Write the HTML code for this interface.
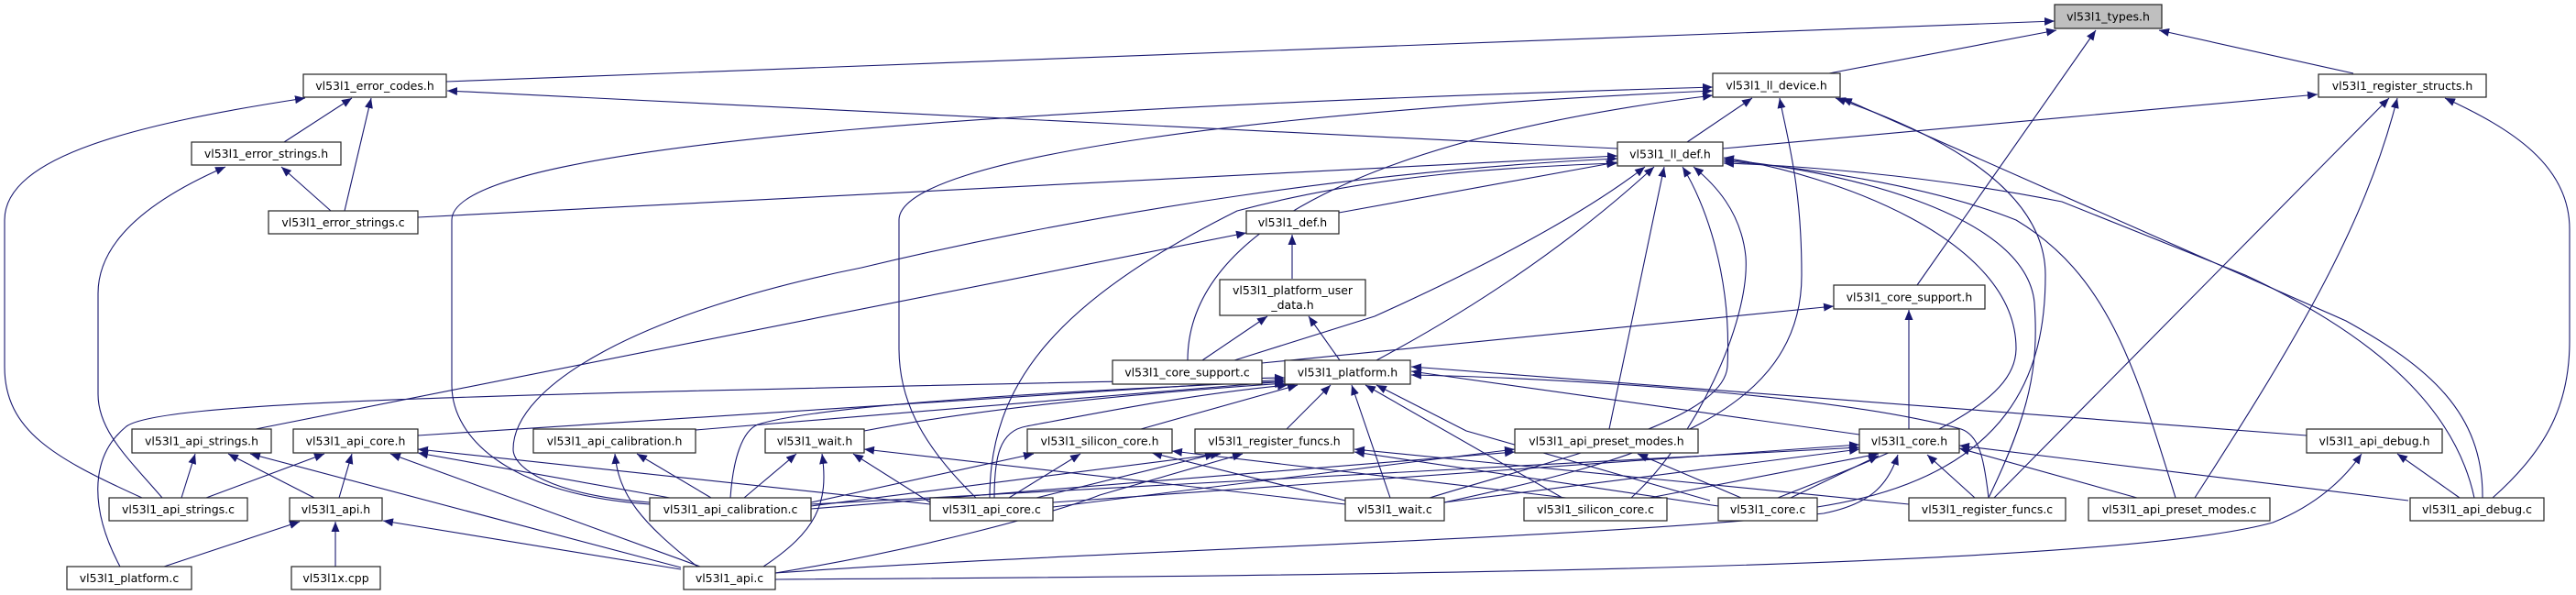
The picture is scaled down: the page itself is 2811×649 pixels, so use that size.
<!DOCTYPE html>
<html><head><meta charset="utf-8"><style>
html,body{margin:0;padding:0;background:#fff;}
svg{display:block;}
text{font-family:"DejaVu Sans","Liberation Sans",sans-serif;font-size:12.5px;fill:#000;}
.n{fill:#fff;stroke:#222;stroke-width:1.2;}
.e{fill:none;stroke:#191970;stroke-width:1.1;}
</style></head><body>
<svg width="2811" height="649" viewBox="0 0 2811 649" xmlns="http://www.w3.org/2000/svg">
<defs><marker id="a" markerUnits="userSpaceOnUse" markerWidth="12" markerHeight="9" refX="11" refY="4.5" orient="auto"><path d="M0,0 L11,4.5 L0,9 z" fill="#191970"/></marker></defs>
<g class="e" marker-end="url(#a)">
<!-- to types.h -->
<path d="M487,89 L2242,23"/>
<path d="M1996,80 L2244,33"/>
<path d="M2092,311 L2287,33"/>
<path d="M2568,80 L2356,33"/>
<!-- to error_codes.h -->
<path d="M1765,162 L488,99"/>
<path d="M310,155 L384,107"/>
<path d="M376,230 L405,107"/>
<path d="M155,543 C60,500 5,470 5,400 L5,240 C5,170 150,135 333,107"/>
<!-- to error_strings.h -->
<path d="M361,230 L307,182"/>
<path d="M177,543 C140,500 107,470 107,430 L107,320 C107,260 170,215 246,182"/>
<!-- to ll_device.h -->
<path d="M1841,155 L1912,107"/>
<path d="M709,550 C560,540 493,480 493,420 L493,240 C493,150 1200,115 1869,95"/>
<path d="M1065,543 C1000,480 981,430 981,380 L981,240 C981,170 1400,120 1869,99"/>
<path d="M1296,393 C1296,250 1500,150 1869,104"/>
<path d="M1576,548 C1800,500 1966,450 1966,300 C1966,200 1950,150 1942,107"/>
<path d="M1983,553 C2200,520 2232,400 2232,300 C2232,200 2100,140 2003,107"/>
<path d="M2709,543 C2710,450 2650,400 2560,350 L2010,107"/>
<!-- to ll_def.h -->
<path d="M456,237 L1765,170"/>
<path d="M1461,232 L1764,177"/>
<path d="M279,468 L1360,254"/>
<path d="M709,548 C600,540 560,510 560,490 C560,420 700,340 940,292 C1200,230 1500,185 1765,173"/>
<path d="M1080,543 C1080,420 1150,330 1350,230 C1500,190 1650,182 1765,178"/>
<path d="M1347,393 L1500,345 C1600,300 1720,240 1795,182"/>
<path d="M1502,393 C1620,330 1720,260 1805,182"/>
<path d="M1756,468 L1816,182"/>
<path d="M1560,543 C1700,500 1880,460 1885,400 C1890,300 1860,220 1836,182"/>
<path d="M1780,543 C1850,480 1910,350 1905,280 C1900,230 1870,200 1848,182"/>
<path d="M1940,543 C2100,480 2200,440 2200,380 C2200,260 2000,190 1881,172"/>
<path d="M2170,543 C2215,450 2225,400 2220,330 C2210,230 2000,185 1881,174"/>
<path d="M2374,543 C2330,400 2300,300 2200,240 C2100,200 1950,180 1881,176"/>
<path d="M2700,543 C2680,450 2600,370 2450,300 L2250,220 C2100,190 1950,180 1881,178"/>
<!-- to register_structs.h -->
<path d="M1880,162 L2529,103"/>
<path d="M2176,543 L2607,107"/>
<path d="M2395,543 C2500,380 2580,250 2616,107"/>
<path d="M2720,543 C2780,490 2804,440 2804,372 L2804,250 C2804,180 2740,140 2668,107"/>
<!-- def/platform_user_data/core_support -->
<path d="M1410,304 L1410,256"/>
<path d="M1312,393 L1383,345"/>
<path d="M1462,393 L1428,345"/>
<path d="M1377,396 L2001,334"/>
<path d="M2083,468 L2083,338"/>
<!-- to platform.h -->
<path d="M131,618 C100,560 95,500 138,465 C180,435 600,430 1402,412"/>
<path d="M456,475 L1402,414"/>
<path d="M759,469 L1402,416"/>
<path d="M943,470 C1100,440 1300,425 1402,418"/>
<path d="M797,543 C800,500 810,470 827,463 C900,440 1200,425 1402,416"/>
<path d="M1245,468 L1416,420"/>
<path d="M1404,468 L1452,420"/>
<path d="M1085,543 C1085,500 1090,470 1120,465 C1200,450 1300,430 1405,420"/>
<path d="M1517,543 L1475,420"/>
<path d="M1705,543 L1490,420"/>
<path d="M1866,546 L1600,470 L1502,420"/>
<path d="M2029,474 L1540,405"/>
<path d="M2517,475 L1540,400"/>
<path d="M2170,543 C2165,500 2160,475 2140,468 C2000,430 1700,412 1540,409"/>
<!-- to api_strings.h -->
<path d="M198,543 L213,495"/>
<path d="M343,543 L249,495"/>
<path d="M743,619 L273,495"/>
<!-- to api_core.h -->
<path d="M225,543 L354,495"/>
<path d="M370,543 L384,495"/>
<path d="M764,618 L426,495"/>
<path d="M731,543 L456,494"/>
<path d="M1015,550 L456,490"/>
<!-- to api.h -->
<path d="M179,618 L327,569"/>
<path d="M366,618 L366,569"/>
<path d="M743,621 L418,568"/>
<!-- to api_calibration.h -->
<path d="M776,543 L695,495"/>
<path d="M761,618 C700,570 675,540 671,495"/>
<!-- to wait.h -->
<path d="M812,543 L869,495"/>
<path d="M833,618 C890,580 905,550 897,495"/>
<path d="M1015,548 L931,495"/>
<path d="M1468,550 L943,490"/>
<!-- to silicon_core.h -->
<path d="M885,548 L1128,495"/>
<path d="M1101,543 L1179,495"/>
<path d="M1468,546 L1257,494"/>
<path d="M1709,543 L1279,492"/>
<!-- to register_funcs.h -->
<path d="M885,552 L1332,495"/>
<path d="M1131,543 L1326,495"/>
<path d="M846,625 C1000,600 1150,560 1200,540 L1356,495"/>
<path d="M1875,552 L1478,493"/>
<path d="M2083,550 L1478,490"/>
<!-- to api_preset_modes.h -->
<path d="M885,555 L1653,493"/>
<path d="M1149,553 L1653,490"/>
<path d="M1900,543 L1787,495"/>
<!-- to core.h -->
<path d="M885,550 L2029,488"/>
<path d="M1149,548 L2029,485"/>
<path d="M1576,548 L2029,490"/>
<path d="M1800,543 L2050,495"/>
<path d="M1954,543 L2050,497"/>
<path d="M2155,543 L2103,496"/>
<path d="M2332,543 L2138,489"/>
<path d="M2628,546 L2138,486"/>
<path d="M846,625 C1200,600 1700,590 1990,560 C2040,550 2060,530 2071,496"/>
<!-- to api_debug.h -->
<path d="M2684,543 L2616,495"/>
<path d="M846,632 C1500,628 2300,620 2480,570 C2530,550 2560,520 2577,495"/>
</g>
<g>
<rect class="n" x="2242" y="5" width="117" height="26" style="fill:#bfbfbf"/><text x="2300.5" y="22.5" text-anchor="middle">vl53l1_types.h</text>
<rect class="n" x="331" y="81" width="156" height="25"/><text x="409" y="98" text-anchor="middle">vl53l1_error_codes.h</text>
<rect class="n" x="1869" y="80" width="139" height="26"/><text x="1938.5" y="97.5" text-anchor="middle">vl53l1_ll_device.h</text>
<rect class="n" x="2530" y="81" width="183" height="25"/><text x="2621.5" y="98" text-anchor="middle">vl53l1_register_structs.h</text>
<rect class="n" x="209" y="155" width="163" height="25"/><text x="290.5" y="172" text-anchor="middle">vl53l1_error_strings.h</text>
<rect class="n" x="1765" y="155" width="115" height="26"/><text x="1822.5" y="172.5" text-anchor="middle">vl53l1_ll_def.h</text>
<rect class="n" x="293" y="230" width="163" height="25"/><text x="374.5" y="247" text-anchor="middle">vl53l1_error_strings.c</text>
<rect class="n" x="1360" y="230" width="101" height="25"/><text x="1410.5" y="247" text-anchor="middle">vl53l1_def.h</text>
<rect class="n" x="1331" y="305" width="159" height="39"/><text x="1410.5" y="321" text-anchor="middle">vl53l1_platform_user</text><text x="1410.5" y="337" text-anchor="middle">_data.h</text>
<rect class="n" x="2001" y="311" width="165" height="26"/><text x="2083.5" y="328.5" text-anchor="middle">vl53l1_core_support.h</text>
<rect class="n" x="1214" y="393" width="163" height="26"/><text x="1295.5" y="410.5" text-anchor="middle">vl53l1_core_support.c</text>
<rect class="n" x="1402" y="393" width="137" height="26"/><text x="1470.5" y="410.5" text-anchor="middle">vl53l1_platform.h</text>
<rect class="n" x="144" y="468" width="152" height="26"/><text x="220" y="485.5" text-anchor="middle">vl53l1_api_strings.h</text>
<rect class="n" x="320" y="468" width="136" height="26"/><text x="388" y="485.5" text-anchor="middle">vl53l1_api_core.h</text>
<rect class="n" x="582" y="468" width="177" height="26"/><text x="670.5" y="485.5" text-anchor="middle">vl53l1_api_calibration.h</text>
<rect class="n" x="835" y="468" width="108" height="26"/><text x="889" y="485.5" text-anchor="middle">vl53l1_wait.h</text>
<rect class="n" x="1121" y="468" width="158" height="26"/><text x="1200" y="485.5" text-anchor="middle">vl53l1_silicon_core.h</text>
<rect class="n" x="1304" y="468" width="173" height="26"/><text x="1390.5" y="485.5" text-anchor="middle">vl53l1_register_funcs.h</text>
<rect class="n" x="1653" y="468" width="200" height="26"/><text x="1753" y="485.5" text-anchor="middle">vl53l1_api_preset_modes.h</text>
<rect class="n" x="2029" y="468" width="109" height="26"/><text x="2083.5" y="485.5" text-anchor="middle">vl53l1_core.h</text>
<rect class="n" x="2517" y="468" width="148" height="26"/><text x="2591" y="485.5" text-anchor="middle">vl53l1_api_debug.h</text>
<rect class="n" x="119" y="543" width="151" height="25"/><text x="194.5" y="560" text-anchor="middle">vl53l1_api_strings.c</text>
<rect class="n" x="316" y="543" width="101" height="25"/><text x="366.5" y="560" text-anchor="middle">vl53l1_api.h</text>
<rect class="n" x="709" y="543" width="176" height="25"/><text x="797" y="560" text-anchor="middle">vl53l1_api_calibration.c</text>
<rect class="n" x="1015" y="543" width="134" height="25"/><text x="1082" y="560" text-anchor="middle">vl53l1_api_core.c</text>
<rect class="n" x="1468" y="543" width="108" height="25"/><text x="1522" y="560" text-anchor="middle">vl53l1_wait.c</text>
<rect class="n" x="1663" y="543" width="156" height="25"/><text x="1741" y="560" text-anchor="middle">vl53l1_silicon_core.c</text>
<rect class="n" x="1875" y="543" width="108" height="25"/><text x="1929" y="560" text-anchor="middle">vl53l1_core.c</text>
<rect class="n" x="2083" y="543" width="171" height="25"/><text x="2168.5" y="560" text-anchor="middle">vl53l1_register_funcs.c</text>
<rect class="n" x="2279" y="543" width="198" height="25"/><text x="2378" y="560" text-anchor="middle">vl53l1_api_preset_modes.c</text>
<rect class="n" x="2630" y="543" width="146" height="25"/><text x="2703" y="560" text-anchor="middle">vl53l1_api_debug.c</text>
<rect class="n" x="73" y="618" width="136" height="25"/><text x="141" y="635" text-anchor="middle">vl53l1_platform.c</text>
<rect class="n" x="318" y="618" width="97" height="25"/><text x="366.5" y="635" text-anchor="middle">vl53l1x.cpp</text>
<rect class="n" x="746" y="618" width="100" height="25"/><text x="796" y="635" text-anchor="middle">vl53l1_api.c</text>
</g>
</svg>
</body></html>
